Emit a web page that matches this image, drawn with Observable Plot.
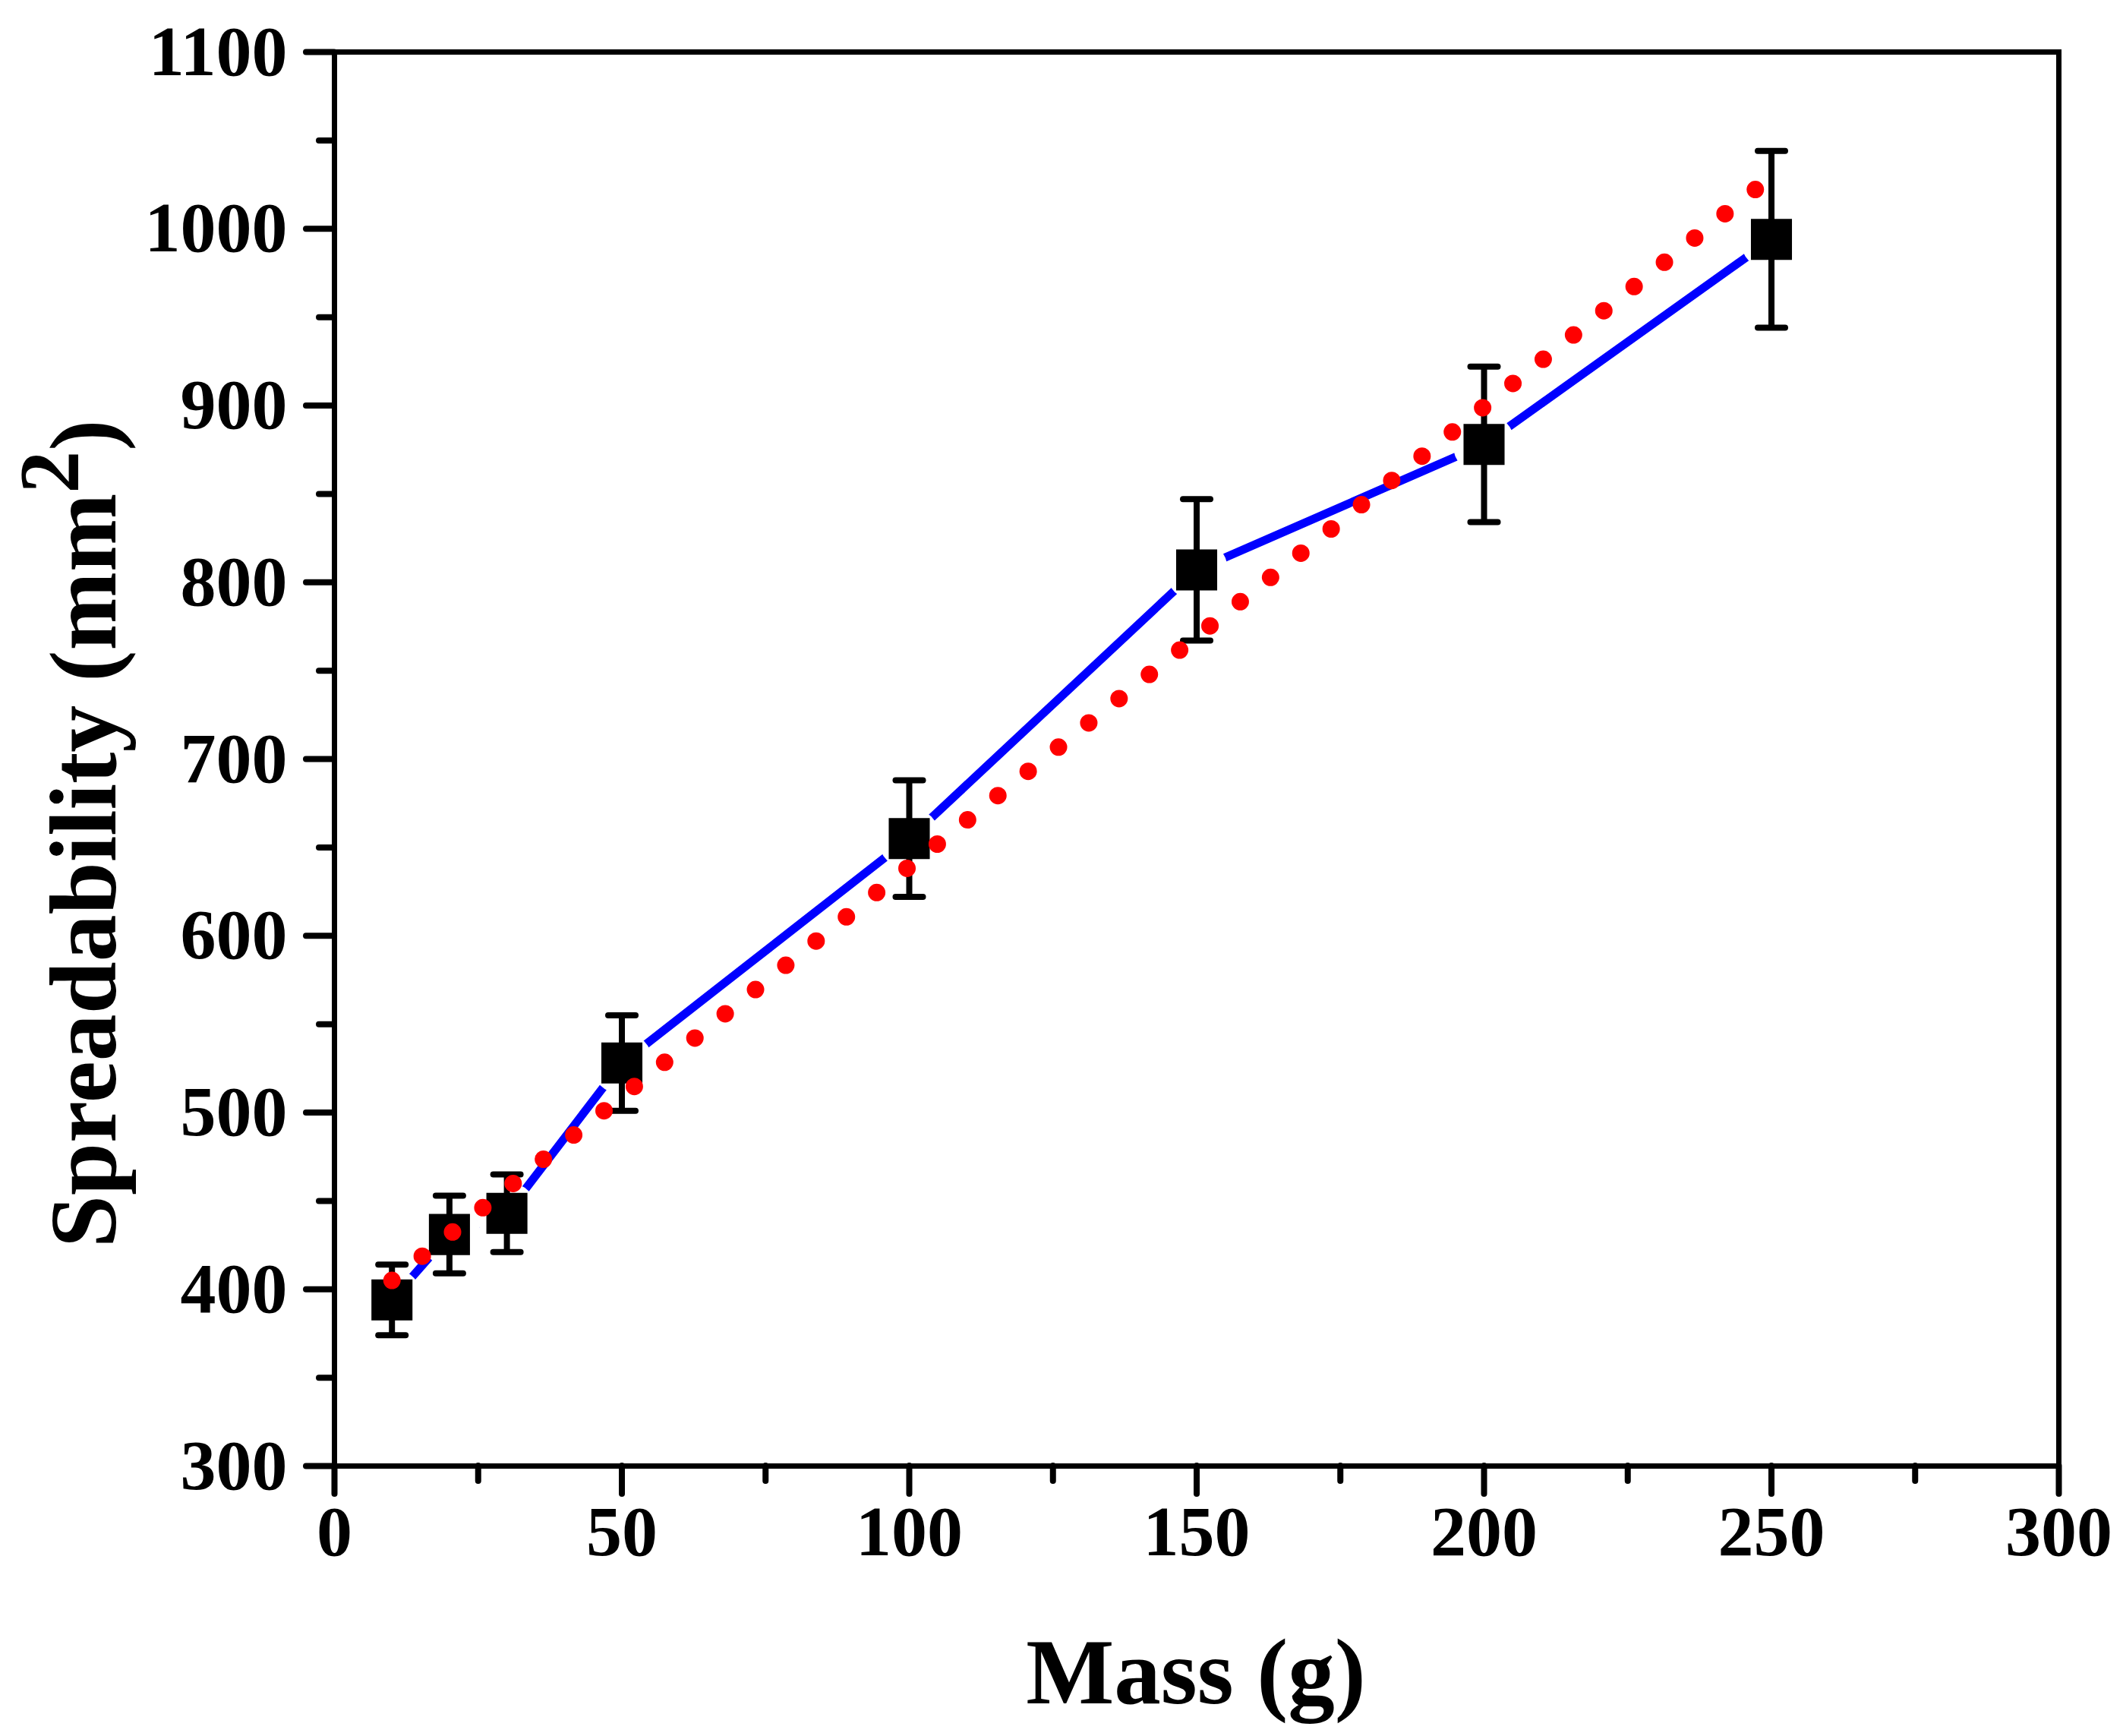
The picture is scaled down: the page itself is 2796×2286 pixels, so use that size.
<!DOCTYPE html>
<html>
<head>
<meta charset="utf-8">
<script src="https://cdn.jsdelivr.net/npm/d3@7"></script>
<script src="https://cdn.jsdelivr.net/npm/@observablehq/plot@0.6"></script>
<style>
  html, body { margin: 0; padding: 0; background: #fff; }
  #chart svg { display: block; }
</style>
</head>
<body>
<div id="chart"></div>
<script>
// ---- data ----
const mass = [10, 20, 30, 50, 100, 150, 200, 250];
const spreadability = [394, 431, 443, 528, 655, 807, 878, 994];
const errorSD = [20, 22, 22, 27, 33, 40, 44, 50];

// linear fit line endpoints (red dotted)
const fitMass = [10, 247.5];
const fitSpread = [405, 1023];

const xTicks = [0, 50, 100, 150, 200, 250, 300];
const xMinorTicks = [25, 75, 125, 175, 225, 275];
const yTicks = [300, 400, 500, 600, 700, 800, 900, 1000, 1100];
const yMinorTicks = [350, 450, 550, 650, 750, 850, 950, 1050];

const xLabel = "Mass (g)";
const yLabelMain = "Spreadability (mm";
const yLabelSup = "2";
const yLabelEnd = ")";

// ---- tables ----
const points = mass.map((m, i) => ({
  x: m, y: spreadability[i],
  lo: spreadability[i] - errorSD[i],
  hi: spreadability[i] + errorSD[i]
}));
const fit = fitMass.map((m, i) => ({x: m, y: fitSpread[i]}));

const capSymbol = {
  draw(context, size) {
    const h = Math.sqrt(size / Math.PI);
    context.moveTo(-h, 0);
    context.lineTo(h, 0);
  }
};

const FONT = "Liberation Serif";
const tickFont = {fontFamily: FONT, fontWeight: "bold", fontSize: 94, fill: "black"};

const chart = Plot.plot({
  width: 2796,
  height: 2286,
  marginLeft: 440,
  marginRight: 85,
  marginTop: 68,
  marginBottom: 356,
  style: {background: "white", color: "black"},
  x: {domain: [0, 300]},
  y: {domain: [300, 1100]},
  marks: [
    Plot.axisX({ticks: xTicks, tickSize: 37, tickPadding: 14, strokeWidth: 8, strokeLinecap: "round",
      tickFormat: d => String(d), label: null, ...tickFont}),
    Plot.axisX({ticks: xMinorTicks, tickSize: 20, strokeWidth: 8, strokeLinecap: "round",
      tickFormat: () => "", label: null}),
    Plot.axisY({ticks: yTicks, tickSize: 37, tickPadding: 25, strokeWidth: 8, strokeLinecap: "round",
      tickFormat: d => String(d), label: null, ...tickFont}),
    Plot.axisY({ticks: yMinorTicks, tickSize: 20, strokeWidth: 8, strokeLinecap: "round",
      tickFormat: () => "", label: null}),
    // blue connecting line
    Plot.line(points, {x: "x", y: "y", stroke: "#0000ff", strokeWidth: 11, strokeLinecap: "round"}),
    // gaps around the symbols
    Plot.dot(points, {x: "x", y: "y", r: 41, fill: "white", stroke: null}),
    // error bars
    Plot.ruleX(points, {x: "x", y1: "lo", y2: "hi", stroke: "black", strokeWidth: 8}),
    Plot.dot(points, {x: "x", y: "lo", symbol: capSymbol, r: 18, fill: "none", stroke: "black", strokeWidth: 8, strokeLinecap: "round"}),
    Plot.dot(points, {x: "x", y: "hi", symbol: capSymbol, r: 18, fill: "none", stroke: "black", strokeWidth: 8, strokeLinecap: "round"}),
    // squares
    Plot.dot(points, {x: "x", y: "y", symbol: "square", r: 30.5, fill: "black", stroke: null}),
    // red dotted fit
    Plot.line(fit, {x: "x", y: "y", stroke: "#ff0000", strokeWidth: 23, strokeDasharray: "0 51.1", strokeLinecap: "round"}),
    Plot.frame({stroke: "black", strokeWidth: 7})
  ]
});

const svg = d3.select(chart);
// x axis title
svg.append("text")
  .attr("x", 1575).attr("y", 2243)
  .attr("text-anchor", "middle")
  .attr("font-family", FONT).attr("font-weight", "bold").attr("font-size", 123)
  .attr("fill", "black")
  .text(xLabel);
// y axis title with superscript
const yt = svg.append("text")
  .attr("transform", "translate(152,1643) rotate(-90)")
  .attr("text-anchor", "start")
  .attr("font-family", FONT).attr("font-weight", "bold").attr("font-size", 124)
  .attr("fill", "black");
yt.append("tspan").text(yLabelMain);
yt.append("tspan").attr("font-size", 112).attr("dy", -49).text(yLabelSup);
yt.append("tspan").attr("dy", 49).text(yLabelEnd);

document.getElementById("chart").appendChild(chart);
</script>
</body>
</html>
